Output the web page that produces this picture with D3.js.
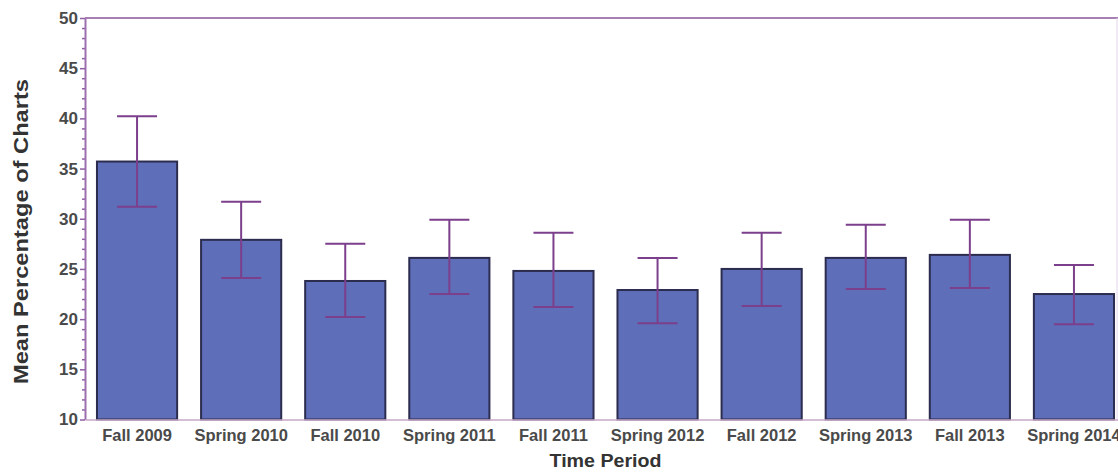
<!DOCTYPE html>
<html><head><meta charset="utf-8">
<script src="https://cdn.jsdelivr.net/npm/d3@7"></script>
<style>
body{margin:0;background:#fff;}
svg{display:block;font-family:"Liberation Sans",Arial,sans-serif;}
</style></head>
<body><svg id="c" width="1118" height="472"></svg>
<script>
const categories = ["Fall 2009","Spring 2010","Fall 2010","Spring 2011","Fall 2011","Spring 2012","Fall 2012","Spring 2013","Fall 2013","Spring 2014"];
const means = [35.7, 27.9, 23.8, 26.1, 24.8, 22.9, 25.0, 26.1, 26.4, 22.5];
const upper = [40.2, 31.7, 27.5, 29.9, 28.6, 26.1, 28.6, 29.4, 29.9, 25.4];
const lower = [31.2, 24.1, 20.2, 22.5, 21.2, 19.6, 21.3, 23.0, 23.1, 19.5];
const yTicks = [10,15,20,25,30,35,40,45,50];
const xTitle = "Time Period";
const yTitle = "Mean Percentage of Charts";

(function(){
const svg = d3.select("#c");
const mL = 85, mR = 1126, mT = 18, mB = 419.5;
const x = d3.scaleBand().domain(categories).range([mL, mR]).paddingInner(0.23).paddingOuter(0.115);
const y = d3.scaleLinear().domain([10, 50]).range([mB, mT]);

// top frame line
svg.append("line").attr("x1", mL).attr("x2", 1118).attr("y1", mT).attr("y2", mT)
  .attr("stroke", "#a77fb3").attr("stroke-width", 2);
svg.append("line").attr("x1", 1117).attr("x2", 1117).attr("y1", mT).attr("y2", mB)
  .attr("stroke", "#e3d6ea").attr("stroke-width", 1);

// bars
svg.append("g").selectAll("rect").data(categories).join("rect")
  .attr("x", d => x(d)).attr("width", x.bandwidth())
  .attr("y", (d,i) => y(means[i])).attr("height", (d,i) => y(10) - y(means[i]))
  .attr("fill", "#5f6eb8").attr("stroke", "#2b2c4e").attr("stroke-width", 2);

// error bars
const eb = svg.append("g").attr("stroke", "#7b3f8c").attr("stroke-width", 2).attr("fill", "none");
categories.forEach((c, i) => {
  const cx = x(c) + x.bandwidth() / 2;
  const hw = 20;
  eb.append("line").attr("x1", cx).attr("x2", cx).attr("y1", y(upper[i])).attr("y2", y(lower[i]));
  eb.append("line").attr("x1", cx - hw).attr("x2", cx + hw).attr("y1", y(upper[i])).attr("y2", y(upper[i]));
  eb.append("line").attr("x1", cx - hw).attr("x2", cx + hw).attr("y1", y(lower[i])).attr("y2", y(lower[i]));
});

// y axis with minor ticks
const minor = d3.range(10, 51, 1).filter(v => v % 5 !== 0);
const yMinor = svg.append("g").attr("transform", `translate(${mL},0)`)
  .call(d3.axisLeft(y).tickValues(minor).tickSize(3).tickFormat(""));
yMinor.select(".domain").remove();
yMinor.selectAll("line").attr("stroke", "#8e5fa3").attr("stroke-width", 1.5);

const yAx = svg.append("g").attr("transform", `translate(${mL},0)`)
  .call(d3.axisLeft(y).tickValues(yTicks).tickSize(5).tickPadding(2).tickSizeOuter(0));
yAx.select(".domain").attr("stroke", "#9d6eb0").attr("stroke-width", 2);
yAx.selectAll(".tick line").attr("stroke", "#8e5fa3").attr("stroke-width", 1.5);
yAx.selectAll("text").attr("fill", "#4a4a4a").style("font-size", "17px").style("font-weight", "bold")
  .style("font-family", "'Liberation Sans',Arial,sans-serif");

// x axis
const xAx = svg.append("g").attr("transform", `translate(0,${mB})`)
  .call(d3.axisBottom(x).tickSize(0).tickPadding(10));
xAx.select(".domain").attr("stroke", "#c9a7c9").attr("stroke-width", 1.5);
xAx.selectAll("text").attr("fill", "#4a4a4a").style("font-size", "16.5px").style("font-weight", "bold")
  .style("font-family", "'Liberation Sans',Arial,sans-serif");

// titles
svg.append("text").attr("x", (mL + mR) / 2).attr("y", 467).attr("text-anchor", "middle")
  .attr("textLength", 112).attr("lengthAdjust", "spacingAndGlyphs")
  .attr("fill", "#333").style("font-size", "18px").style("font-weight", "bold").text(xTitle);
svg.append("text").attr("transform", `translate(28,231.5) rotate(-90)`)
  .attr("text-anchor", "middle").attr("textLength", 305).attr("lengthAdjust", "spacingAndGlyphs")
  .attr("fill", "#333").style("font-size", "20px").style("font-weight", "bold").text(yTitle);
})();
</script></body></html>
